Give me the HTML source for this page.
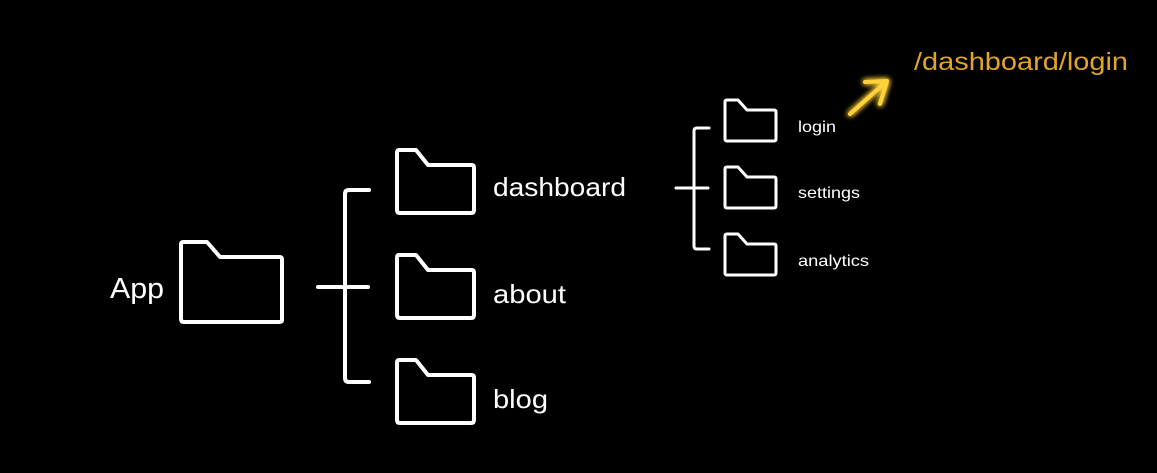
<!DOCTYPE html>
<html><head><meta charset="utf-8"><style>
html,body{margin:0;padding:0;background:#000;}
svg{display:block}
text{font-family:"Liberation Sans",sans-serif;fill:#fff}
</style></head><body>
<svg width="1157" height="473" viewBox="0 0 1157 473">
<defs>
<filter id="g" x="-50%" y="-50%" width="200%" height="200%"><feGaussianBlur stdDeviation="3" result="b"/><feMerge><feMergeNode in="b"/><feMergeNode in="b"/><feMergeNode in="SourceGraphic"/></feMerge></filter>
</defs>
<g fill="none" stroke="#fff" stroke-width="4" stroke-linejoin="round" stroke-linecap="round">
<path d="M183 242 H207 L220 257 H280 Q282 257 282 260 V320 Q282 322 279 322 H184 Q181 322 181 319 V245 Q181 242 183 242 Z"/>
<path d="M399 150 H416 L428 165 H472 Q474 165 474 168 V210 Q474 213 471 213 H400 Q397 213 397 210 V153 Q397 150 399 150 Z"/>
<path d="M399 255 H416 L428 270 H472 Q474 270 474 273 V315 Q474 318 471 318 H400 Q397 318 397 315 V258 Q397 255 399 255 Z"/>
<path d="M399 360 H416 L428 375 H472 Q474 375 474 378 V420 Q474 423 471 423 H400 Q397 423 397 420 V363 Q397 360 399 360 Z"/>
<path d="M318 287 H368"/>
<path d="M369 190 H349 Q345 190 345 194 V378 Q345 382 349 382 H369"/>
</g>
<g fill="none" stroke="#fff" stroke-width="3" stroke-linejoin="round" stroke-linecap="round">
<path d="M727 100 H738 L747 110 H774 Q776 110 776 112 V139 Q776 141 774 141 H727 Q725 141 725 139 V102 Q725 100 727 100 Z"/>
<path d="M727 167 H738 L747 177 H774 Q776 177 776 179 V206 Q776 208 774 208 H727 Q725 208 725 206 V169 Q725 167 727 167 Z"/>
<path d="M727 234 H738 L747 244 H774 Q776 244 776 246 V273 Q776 275 774 275 H727 Q725 275 725 273 V236 Q725 234 727 234 Z"/>
<path d="M676 188 H708"/>
<path d="M709 128 H697 Q694 128 694 131 V246 Q694 249 697 249 H709"/>
</g>
<text x="110" y="298" font-size="29" textLength="54" lengthAdjust="spacingAndGlyphs">App</text>
<text x="493" y="196" font-size="26" textLength="133" lengthAdjust="spacingAndGlyphs">dashboard</text>
<text x="493" y="303" font-size="26" textLength="73" lengthAdjust="spacingAndGlyphs">about</text>
<text x="493" y="408" font-size="26" textLength="55" lengthAdjust="spacingAndGlyphs">blog</text>
<text x="798" y="132" font-size="16" textLength="38" lengthAdjust="spacingAndGlyphs">login</text>
<text x="798" y="198" font-size="16" textLength="62" lengthAdjust="spacingAndGlyphs">settings</text>
<text x="798" y="266" font-size="16" textLength="71" lengthAdjust="spacingAndGlyphs">analytics</text>
<text x="914" y="70" font-size="25" textLength="214" lengthAdjust="spacingAndGlyphs" style="fill:#e0a526">/dashboard/login</text>
<g filter="url(#g)" fill="none" stroke="#ffd23a" stroke-width="4" stroke-linecap="round" stroke-linejoin="round">
<path d="M850 114 L887 81"/>
<path d="M865 82 L887 81 L880 104"/>
</g>
</svg>
</body></html>
